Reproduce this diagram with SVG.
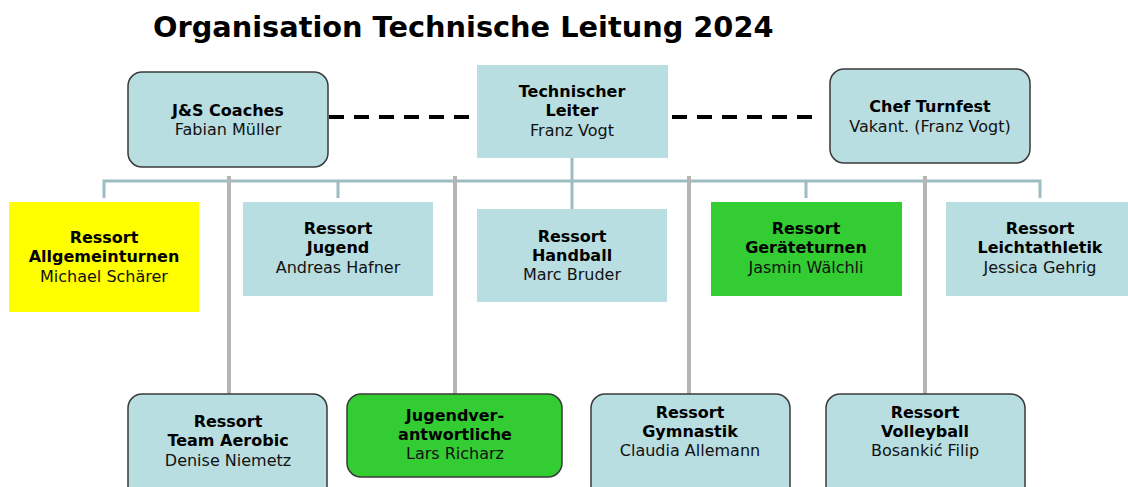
<svg xmlns="http://www.w3.org/2000/svg" width="1128" height="487" viewBox="0 0 1128 487">
<style>
text{font-family:"DejaVu Sans","Verdana",sans-serif;font-size:16px;text-anchor:middle;fill:#111}
.b{font-weight:bold;fill:#000}
.title{font-size:28.8px;font-weight:bold;text-anchor:start;fill:#000}
.box{fill:#B8DEE2}
.rbox{fill:#B8DEE2;stroke:#3a3a3a;stroke-width:1.5}
.yellow{fill:#FFFF00}
.green{fill:#33CC33}
.rgreen{fill:#33CC33;stroke:#3a3a3a;stroke-width:1.5}
.conn{stroke:#9DBDC2;stroke-width:3;fill:none}
.gray{stroke:#B5B5B5;stroke-width:4;fill:none}
.dash{stroke:#000;stroke-width:4;stroke-dasharray:15 10;fill:none}
</style>
<text class="title" x="153" y="37">Organisation Technische Leitung 2024</text>
<g id="connectors">
<line class="dash" x1="329" y1="117" x2="480" y2="117"/>
<line class="dash" x1="672" y1="117" x2="815" y2="117"/>
<path class="conn" d="M572 158V181M104 198V181H1040V198M338 181V198M572 181V209M806 181V198"/>
<path class="gray" d="M229 176V395M455 176V395M689 176V395M925 176V395"/>
</g>
<g id="js-coaches">
<rect class="rbox" x="128" y="72" width="200" height="95" rx="14"/>
<text class="b" x="228" y="116">J&amp;S Coaches</text>
<text x="228" y="135">Fabian Müller</text>
</g>
<g id="technischer-leiter">
<rect class="box" x="477" y="65" width="191" height="93"/>
<text class="b" x="572" y="97">Technischer</text>
<text class="b" x="572" y="116">Leiter</text>
<text x="572" y="136">Franz Vogt</text>
</g>
<g id="chef-turnfest">
<rect class="rbox" x="830" y="69" width="200" height="94" rx="14"/>
<text class="b" x="930" y="112">Chef Turnfest</text>
<text x="930" y="132">Vakant. (Franz Vogt)</text>
</g>
<g id="allgemeinturnen">
<rect class="yellow" x="9" y="202" width="190" height="110"/>
<text class="b" x="104" y="243">Ressort</text>
<text class="b" x="104" y="262">Allgemeinturnen</text>
<text x="104" y="282">Michael Schärer</text>
</g>
<g id="jugend">
<rect class="box" x="243" y="202" width="190" height="94"/>
<text class="b" x="338" y="234">Ressort</text>
<text class="b" x="338" y="253">Jugend</text>
<text x="338" y="273">Andreas Hafner</text>
</g>
<g id="handball">
<rect class="box" x="477" y="209" width="190" height="93"/>
<text class="b" x="572" y="242">Ressort</text>
<text class="b" x="572" y="261">Handball</text>
<text x="572" y="280">Marc Bruder</text>
</g>
<g id="geraeteturnen">
<rect class="green" x="711" y="202" width="191" height="94"/>
<text class="b" x="806" y="234">Ressort</text>
<text class="b" x="806" y="253">Geräteturnen</text>
<text x="806" y="273">Jasmin Wälchli</text>
</g>
<g id="leichtathletik">
<rect class="box" x="946" y="202" width="190" height="94"/>
<text class="b" x="1040" y="234">Ressort</text>
<text class="b" x="1040" y="253">Leichtathletik</text>
<text x="1040" y="273">Jessica Gehrig</text>
</g>
<g id="team-aerobic">
<rect class="rbox" x="128" y="394" width="199" height="110" rx="14"/>
<text class="b" x="228" y="427">Ressort</text>
<text class="b" x="228" y="446">Team Aerobic</text>
<text x="228" y="466">Denise Niemetz</text>
</g>
<g id="jugendverantwortliche">
<rect class="rgreen" x="347" y="394" width="215" height="83" rx="14"/>
<text class="b" x="455" y="421">Jugendver-</text>
<text class="b" x="455" y="440">antwortliche</text>
<text x="455" y="459">Lars Richarz</text>
</g>
<g id="gymnastik">
<rect class="rbox" x="591" y="394" width="199" height="110" rx="14"/>
<text class="b" x="690" y="418">Ressort</text>
<text class="b" x="690" y="437">Gymnastik</text>
<text x="690" y="456">Claudia Allemann</text>
</g>
<g id="volleyball">
<rect class="rbox" x="826" y="394" width="199" height="110" rx="14"/>
<text class="b" x="925" y="418">Ressort</text>
<text class="b" x="925" y="437">Volleyball</text>
<text x="925" y="456">Bosankić Filip</text>
</g>
</svg>
